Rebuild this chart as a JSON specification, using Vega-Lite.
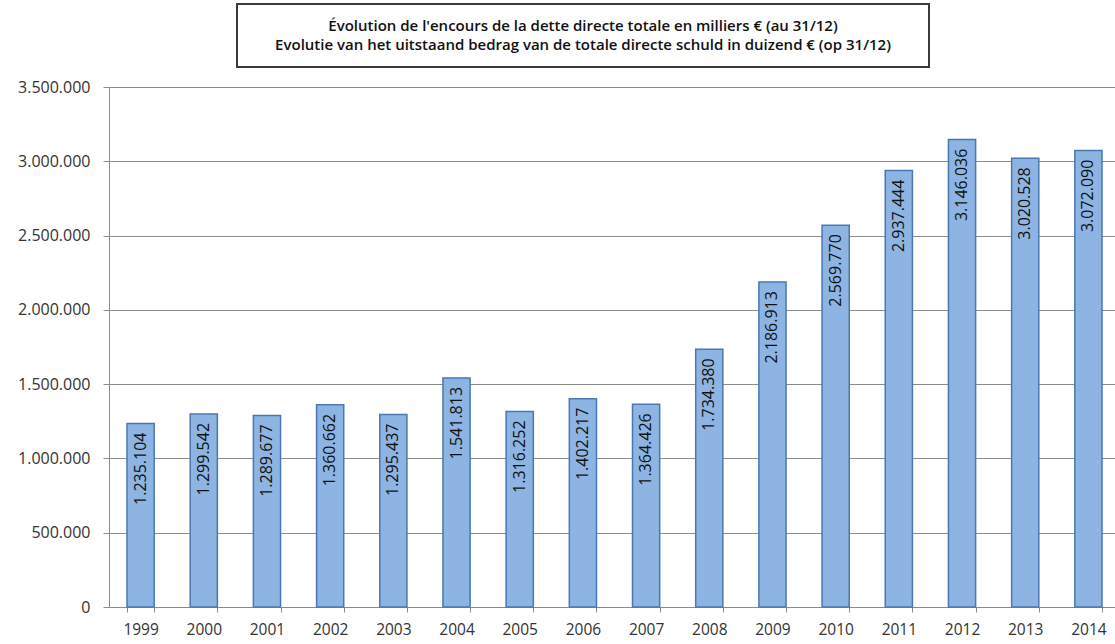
{
  "$schema": "https://vega.github.io/schema/vega-lite/v6.json",
  "padding": {"top": 3, "left": 17, "right": 0, "bottom": 0},
  "background": "white",
  "config": {
    "locale": {"number": {"decimal": ",", "thousands": ".", "grouping": [3], "currency": ["", " €"]}},
    "font": "Open Sans",
    "view": {"stroke": null}
  },
  "vconcat": [
    {
      "hconcat": [
        {
          "width": 127,
          "height": 63,
          "data": {"values": []},
          "mark": {"type": "text"},
          "encoding": {}
        },
        {
          "width": 692,
          "height": 63,
          "view": {"stroke": "#3a3a3a", "strokeWidth": 2},
          "data": {"values": [{"fr": "Évolution de l'encours de la dette directe totale en milliers € (au 31/12)", "nl": "Evolutie van het uitstaand bedrag van de totale directe schuld in duizend € (op 31/12)"}]},
          "layer": [
            {
              "mark": {"type": "text", "font": "Open Sans", "fontSize": 15, "fontWeight": 600, "color": "#111111", "dy": -9.5},
              "encoding": {"text": {"field": "fr"}}
            },
            {
              "mark": {"type": "text", "font": "Open Sans", "fontSize": 15, "fontWeight": 600, "color": "#111111", "dy": 9.5},
              "encoding": {"text": {"field": "nl"}}
            }
          ]
        }
      ],
      "spacing": 0
    },
    {
      "width": 1011,
      "height": 520,
      "data": {"values": [
        {"year": "1999", "value": 1235104},
        {"year": "2000", "value": 1299542},
        {"year": "2001", "value": 1289677},
        {"year": "2002", "value": 1360662},
        {"year": "2003", "value": 1295437},
        {"year": "2004", "value": 1541813},
        {"year": "2005", "value": 1316252},
        {"year": "2006", "value": 1402217},
        {"year": "2007", "value": 1364426},
        {"year": "2008", "value": 1734380},
        {"year": "2009", "value": 2186913},
        {"year": "2010", "value": 2569770},
        {"year": "2011", "value": 2937444},
        {"year": "2012", "value": 3146036},
        {"year": "2013", "value": 3020528},
        {"year": "2014", "value": 3072090}
      ]},
      "encoding": {
        "x": {
          "field": "year", "type": "ordinal", "sort": null,
          "scale": {"paddingInner": 0.57, "paddingOuter": 0.285},
          "axis": {
            "title": null, "labelAngle": 0, "labelFontSize": 15.5, "labelColor": "#333333",
            "labelPadding": 10, "domainColor": "#8c8c8c", "tickColor": "#8c8c8c",
            "tickBand": "extent", "tickSize": 5, "grid": false
          }
        },
        "y": {
          "field": "value", "type": "quantitative",
          "scale": {"domain": [0, 3500000], "nice": false},
          "axis": {
            "title": null, "format": ",d", "values": [0, 500000, 1000000, 1500000, 2000000, 2500000, 3000000, 3500000],
            "labelFontSize": 16, "labelColor": "#333333", "labelPadding": 13,
            "domainColor": "#8c8c8c", "tickColor": "#8c8c8c", "tickSize": 6,
            "gridColor": "#8c8c8c", "gridWidth": 1, "gridOpacity": 1
          }
        }
      },
      "layer": [
        {
          "mark": {"type": "bar", "color": "#8DB4E2", "stroke": "#4A78B0", "strokeWidth": 1.5}
        },
        {
          "mark": {"type": "text", "angle": 270, "align": "right", "baseline": "middle", "dx": -9, "fontSize": 16, "color": "#111111"},
          "encoding": {"text": {"field": "value", "type": "quantitative", "format": ",d"}}
        }
      ]
    }
  ],
  "spacing": 11
}
